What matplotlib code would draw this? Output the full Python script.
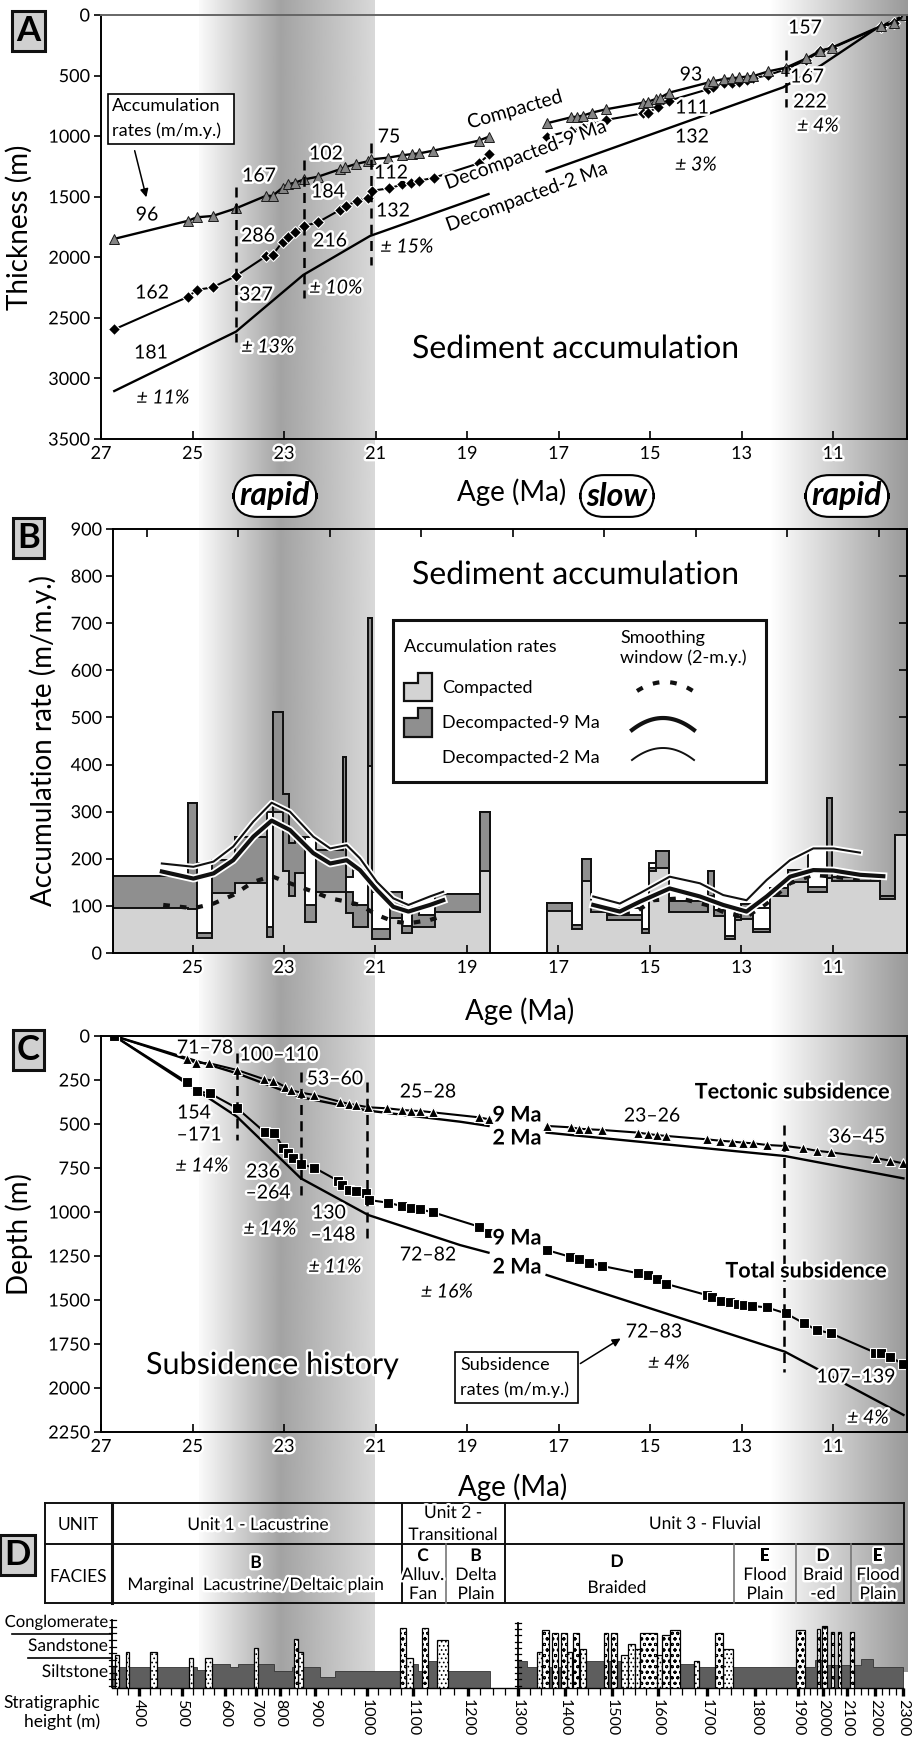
import numpy as np
import matplotlib
matplotlib.use("Agg")
import matplotlib.pyplot as plt
import matplotlib.patheffects as pe
from matplotlib.patches import Rectangle, Polygon

plt.rcParams["font.family"] = ["Lato", "DejaVu Sans"]
plt.rcParams["hatch.linewidth"] = 0.7
plt.rcParams["axes.linewidth"] = 1.4

nan = np.nan
W, H = 917, 1737

# ---------------- Panel A : sediment accumulation (thickness) ----------------
COMP_AGE = [26.72, 25.09, 24.91, 24.56, 24.05, 23.39, 23.25, 23.03, 22.91, 22.76,
            22.56, 22.26, 21.78, 21.67, 21.43, 21.17, 21.10, 20.73, 20.43, 20.21,
            20.04, 19.74, 18.74, 18.52, nan, 17.26, 16.73, 16.60, 16.47, 16.27,
            15.97, 15.16, 15.04, 14.87, 14.78, 14.58, 13.74, 13.63, 13.38, 13.20,
            13.05, 12.89, 12.74, 12.41, 12.03, 11.58, 11.28, 11.03, 9.95, 9.67, 9.42]
COMP_THK = [1849, 1698, 1670, 1659, 1596, 1492, 1494, 1425, 1398, 1384,
            1357, 1335, 1274, 1258, 1230, 1208, 1192, 1178, 1159, 1148,
            1142, 1120, 1037, 1004, nan, 894, 845, 839, 831, 806,
            779, 724, 715, 693, 683, 641, 559, 548, 528, 523,
            515, 509, 504, 465, 435, 358, 295, 270, 91, 63, 0]
DEC9_AGE = [26.71, 25.09, 24.91, 24.56, 24.05, 23.39, 23.25, 23.03, 22.91, 22.76,
            22.56, 22.26, 21.78, 21.64, 21.40, 21.16, 21.07, 20.70, 20.41, 20.22,
            20.04, 19.72, 18.74, 18.51, nan, 17.26, 16.73, 16.47, 16.27, 15.97,
            15.16, 15.04, 14.82, 14.58, 13.74, 13.63, 13.38, 13.20, 13.05, 12.89,
            12.74, 12.41, 12.03, 11.58, 11.28, 11.03, 9.95, 9.67, 9.42]
DEC9_THK = [2595, 2325, 2270, 2248, 2155, 1990, 1981, 1871, 1830, 1794,
            1742, 1711, 1610, 1577, 1533, 1508, 1450, 1431, 1398, 1390,
            1368, 1343, 1224, 1150, nan, 1004, 955, 936, 903, 867,
            812, 806, 757, 707, 614, 597, 564, 560, 550, 537,
            523, 495, 448, 370, 300, 275, 95, 70, 0]
DEC2_AGE = [26.71, 24.05, 22.58, 21.12, 18.53, nan, 17.26, 12.09, 11.25, 10.05, 9.42]
DEC2_THK = [3104, 2614, 2146, 1824, 1478, nan, 1293, 597, 413, 110, 0]
A_CUT_AGE = [24.05, 22.56, 21.10, 12.03]
A_CUT_TOP = [1420, 1197, 1057, 289]
A_CUT_BOT = [2700, 2336, 2064, 760]

# ---------------- Panel B : accumulation rates ----------------
B_EDGES = [26.74, 25.09, 24.91, 24.57, 24.07, 23.38, 23.25, 23.03, 22.88, 22.76,
           22.54, 22.29, 21.70, 21.64, 21.49, 21.38, 21.16, 21.08, 20.68, 20.43,
           20.21, 20.06, 19.70, 18.72, 18.50, 17.26, 16.71, 16.49, 16.28, 15.95,
           15.18, 15.02, 14.87, 14.58, 13.73, 13.60, 13.36, 13.14, 13.00, 12.74,
           12.38, 11.98, 11.54, 11.14, 11.03, 9.97, 9.64, 9.38]
B_COMP = [96, 93, 31, 127, 148, 35, 300, 175, 120, 169,
          66, 130, 130, 84, 56, 56, 396, 29, 74, 42,
          56, 56, 88, 175, 0, 90, 52, 152, 88, 70,
          42, 175, 181, 88, 120, 78, 30, 70, 73, 45,
          120, 150, 130, 160, 152, 115, 250]
B_DEC9 = [163, 319, 43, 197, 246, 56, 512, 337, 233, 247,
          102, 219, 415, 130, 102, 102, 712, 51, 130, 58,
          88, 81, 125, 300, 0, 107, 60, 200, 98, 80,
          50, 181, 217, 110, 173, 92, 36, 77, 105, 52,
          137, 177, 140, 328, 162, 120, 250]
B_DEC2 = [163, 319, 190, 197, 246, 300, 512, 337, 233, 247,
          247, 219, 415, 162, 176, 176, 712, 130, 130, 100,
          88, 81, 125, 300, 0, 107, 60, 200, 98, 95,
          50, 190, 217, 110, 173, 92, 100, 77, 105, 95,
          137, 177, 219, 328, 162, 120, 250]
SM2_AGE = [25.67, 24.98, 24.54, 24.11, 23.67, 23.27, 22.87, 22.36, 21.99, 21.63,
           21.34, 20.97, 20.61, 20.28, 19.81, 19.52, nan,
           16.24, 15.66, 15.22, 14.57, 13.91, 13.40, 12.89, 12.45, 11.94, 11.43, 10.99, 10.41]
SM2_VAL = [190, 183, 194, 226, 279, 319, 300, 247, 222, 229,
           201, 151, 116, 102, 120, 130, nan,
           120, 105, 127, 162, 148, 123, 112, 155, 197, 222, 222, 213]
SM9_AGE = [25.67, 24.98, 24.54, 24.11, 23.67, 23.27, 22.87, 22.36, 21.99, 21.63,
           21.34, 20.97, 20.61, 20.28, 19.81, 19.52, nan,
           16.24, 15.66, 15.22, 14.57, 13.91, 13.40, 12.89, 12.45, 11.94, 11.43, 10.99, 10.41, 9.90]
SM9_VAL = [173, 158, 169, 197, 247, 281, 261, 212, 190, 197,
           176, 134, 98, 88, 102, 112, nan,
           102, 88, 109, 137, 120, 102, 88, 120, 162, 176, 175, 166, 163]
SMC_AGE = [25.64, 24.98, 24.54, 24.11, 23.67, 23.27, 22.87, 22.36, 21.99, 21.63,
           21.34, 20.97, 20.61, 20.28, 19.81, 19.52, nan,
           15.95, 15.36, 14.93, 14.34, 13.76, 13.32, 12.89, 12.45, 11.94, 11.43, 10.99, 10.41, 9.97]
SMC_VAL = [102, 95, 105, 123, 151, 163, 148, 130, 116, 109,
           102, 81, 67, 63, 70, 79, nan,
           84, 84, 112, 116, 102, 84, 77, 105, 148, 166, 162, 155, 166]

# ---------------- Panel C : subsidence history ----------------
TECT9_AGE = [26.71, 25.13, 24.92, 24.63, 24.03, 23.43, 23.23, 22.98, 22.85, 22.63,
             22.34, 21.78, 21.59, 21.43, 21.16, 20.74, 20.43, 20.23, 20.03, 19.74,
             18.74, 18.53, nan, 17.26, 16.73, 16.55, 16.35, 16.04, 15.26, 15.04,
             14.85, 14.64, 13.76, 13.47, 13.21, 12.96, 12.74, 12.45, 12.05, 11.65,
             11.36, 11.05, 10.05, 9.75, 9.48]
TECT9_DEP = [0, 133, 152, 155, 193, 246, 254, 288, 307, 322,
             335, 373, 386, 392, 405, 411, 420, 424, 426, 434,
             462, 473, nan, 511, 519, 527, 530, 534, 549, 557,
             563, 568, 587, 595, 600, 606, 610, 619, 625, 638,
             652, 661, 695, 708, 723]
TECT2_AGE = [26.71, 24.03, 22.63, 21.16, 19.15, 18.53, nan, 17.26, 12.05, 9.46]
TECT2_DEP = [0, 212, 348, 424, 487, 511, nan, 549, 682, 809]
TOT9_AGE = [26.71, 25.11, 24.91, 24.62, 24.02, 23.42, 23.22, 23.02, 22.91, 22.81,
            22.63, 22.34, 21.81, 21.73, 21.57, 21.43, 21.21, 21.14, 20.73, 20.43,
            20.23, 20.03, 19.74, 18.74, 18.53, nan, 17.26, 16.75, 16.55, 16.33,
            16.04, 15.26, 15.04, 14.85, 14.64, 13.76, 13.65, 13.45, 13.25, 13.07,
            12.95, 12.76, 12.45, 12.03, 11.63, 11.36, 11.05, 10.08, 9.96, 9.75, 9.46]
TOT9_DEP = [0, 263, 313, 326, 411, 547, 549, 634, 663, 691,
            729, 748, 824, 847, 875, 881, 894, 932, 947, 966,
            975, 985, 1002, 1083, 1117, nan, 1216, 1254, 1265, 1288,
            1307, 1348, 1360, 1383, 1409, 1472, 1485, 1504, 1509, 1523,
            1528, 1534, 1542, 1576, 1633, 1670, 1689, 1799, 1803, 1826, 1864]
TOT2_AGE = [26.71, 24.03, 22.63, 21.16, 19.15, 18.53, nan, 17.26, 12.05, 9.46]
TOT2_DEP = [0, 458, 809, 1017, 1188, 1231, nan, 1358, 1794, 2153]
C_CUT_AGE = [24.03, 22.63, 21.18, 12.07]
C_CUT_TOP = [97, 205, 261, 506]
C_CUT_BOT = [591, 903, 1148, 1909]

# ---------------- Panel D : stratigraphy ----------------
STRAT_HEIGHT = [400, 500, 600, 700, 800, 900, 1000, 1100, 1200, 1300,
                1400, 1500, 1600, 1700, 1800, 1900, 2000, 2100, 2200, 2300]
STRAT_AGE = [26.17, 25.23, 24.29, 23.61, 23.09, 22.32, 21.19, 20.18, 18.98, 17.89,
             16.86, 15.83, 14.83, 13.75, 12.70, 11.77, 11.22, 10.69, 10.08, 9.47]
MUD_EDGES = [338, 535, 570, 615, 642, 776, 834, 910, 938, 1100, 1109, 1127, 1144, 1164,
             1245, 1300, 1319, 1340, 1368, 1443, 1645, 1676, 1754, 1970, 1996, 2151, 2193, 2300]
MUD_LEVEL = [0.27, 0.24, 0.32, 0.27, 0.32, 0.23, 0.27, 0.15, 0.23, 0.31, 0.23, 0.35, 0.31,
             0.23, 0.0, 0.36, 0.28, 0.28, 0.28, 0.36, 0.32, 0.28, 0.28, 0.37, 0.30, 0.38, 0.27]
SAND_BASE = [344, 370, 425, 517, 553, 694, 851, 1085, 1144, 1340, 1404, 1432, 1520,
             1535, 1550, 1598, 1673, 1733]
SAND_TOP = [353, 377, 442, 526, 570, 708, 866, 1100, 1164, 1351, 1415, 1445, 1535,
            1550, 1561, 1608, 1684, 1754]
SAND_LEVEL = [0.43, 0.48, 0.48, 0.40, 0.40, 0.52, 0.48, 0.39, 0.63, 0.47, 0.48, 0.51, 0.43,
              0.58, 0.51, 0.43, 0.36, 0.51]
CONG_BASE = [840, 1072, 1116, 1351, 1372, 1391, 1417, 1483, 1498, 1561, 1608, 1624, 1717,
             1895, 1977, 1996, 2032, 2064, 2110]
CONG_TOP = [851, 1085, 1127, 1366, 1385, 1404, 1430, 1491, 1511, 1598, 1624, 1645, 1733,
            1928, 1988, 2017, 2046, 2074, 2124]
CONG_LEVEL = [0.64, 0.785, 0.785, 0.76, 0.73, 0.73, 0.73, 0.73, 0.73, 0.73, 0.70, 0.76, 0.73,
              0.76, 0.78, 0.81, 0.74, 0.74, 0.74]

# gradient bands (rapid accumulation periods)
BAND1_AGE = [24.85, 23.07, 21.02]
BAND1_GREY = [0.98, 0.64, 0.85]
BAND2_AGE = [12.38, 9.383]
BAND2_GREY = [1.0, 0.6]


def age_at(px):
    return 27.0 - (px - 101) / 45.75


def rect(x0, y0, x1, y1):
    return [x0 / W, 1 - y1 / H, (x1 - x0) / W, (y1 - y0) / H]


def h2age(h):
    h = np.asarray(h, dtype=float)
    a = np.interp(h, STRAT_HEIGHT, STRAT_AGE)
    lo = h < STRAT_HEIGHT[0]
    slope = (STRAT_AGE[1] - STRAT_AGE[0]) / (STRAT_HEIGHT[1] - STRAT_HEIGHT[0])
    a = np.where(lo, STRAT_AGE[0] + (h - STRAT_HEIGHT[0]) * slope, a)
    return a


HALO = [pe.withStroke(linewidth=3.5, foreground="white")]
LINE_HALO = lambda lw: [pe.Stroke(linewidth=lw + 2.6, foreground="white"), pe.Normal()]

fig = plt.figure(figsize=(W / 100, H / 100), dpi=100)

# background gradient bands
bg = fig.add_axes([0, 0, 1, 1], zorder=0)
bg.axis("off")
for b_age, b_grey, ybot in ((BAND1_AGE, BAND1_GREY, 1688), (BAND2_AGE, BAND2_GREY, 1672)):
    xs = np.linspace(b_age[0], b_age[-1], 300)
    g = np.interp(-xs, -np.array(b_age), b_grey)
    bg.imshow(g[None, :], extent=[xs[0], xs[-1], ybot, 0], cmap="gray", vmin=0, vmax=1,
              aspect="auto", interpolation="bilinear")
bg.set_xlim(age_at(0), age_at(W))
bg.set_ylim(H, 0)


def style_ticks(ax, xt, yt, fs=13):
    ax.set_xticks(xt)
    ax.set_yticks(yt)
    ax.tick_params(axis="x", direction="in", length=6, width=1.2, labelsize=fs, pad=5)
    ax.tick_params(axis="y", direction="out", length=5, width=1.2, labelsize=fs, pad=3)
    for lbl in ax.get_xticklabels() + ax.get_yticklabels():
        lbl.set_path_effects(HALO)


AGE_TICKS = [27, 25, 23, 21, 19, 17, 15, 13, 11]

# ---------------- Panel A ----------------
axA = fig.add_axes(rect(101, 15, 907, 439), zorder=1)
axA.patch.set_alpha(0)
axA.plot(DEC2_AGE, DEC2_THK, color="black", lw=1.7)
axA.plot(DEC9_AGE, DEC9_THK, color="black", lw=1.5, marker="D", ms=6, mfc="black",
         mec="white", mew=0.8)
axA.plot(COMP_AGE, COMP_THK, color="black", lw=1.7, marker="^", ms=7.5, mfc="#858585",
         mec="#1a1a1a", mew=0.7)
axA.vlines(A_CUT_AGE, A_CUT_TOP, A_CUT_BOT, colors="black", linestyles=(0, (4, 2.5)), lw=1.8)
axA.set_xlim(27, age_at(907))
axA.set_ylim(3500, 0)
style_ticks(axA, AGE_TICKS, np.arange(0, 3501, 500))
axA.spines["top"].set_color("#666666")
axA.set_ylabel("Thickness (m)", fontsize=20)
axA.yaxis.set_label_coords((33 - 101) / 806, 0.5)
axA.set_xlabel("Age (Ma)", fontsize=20)
axA.xaxis.set_label_coords((512 - 101) / 806, -(478 - 439) / 424)

# ---------------- Panel B ----------------
axB = fig.add_axes(rect(113, 529, 907, 953), zorder=1)
axB.patch.set_alpha(0)
axB.stairs(B_DEC2, B_EDGES, fill=True, facecolor="white", edgecolor="#111111", lw=1.4, baseline=0)
axB.stairs(B_DEC9, B_EDGES, fill=True, facecolor="#8f8f8f", edgecolor="#111111", lw=1.4, baseline=0)
axB.stairs(B_COMP, B_EDGES, fill=True, facecolor="#d3d3d3", edgecolor="#111111", lw=1.4, baseline=0)
axB.plot(SMC_AGE, SMC_VAL, color="#111111", lw=3, ls=(0, (1.6, 2.4)))
axB.plot(SM9_AGE, SM9_VAL, color="#111111", lw=3, path_effects=LINE_HALO(3))
axB.plot(SM2_AGE, SM2_VAL, color="#111111", lw=1.5, path_effects=LINE_HALO(1.5))
axB.set_xlim(age_at(113), age_at(907))
axB.set_ylim(0, 900)
style_ticks(axB, AGE_TICKS[1:], np.arange(0, 901, 100))
axB.set_xticks(np.arange(10, 27, 2), minor=True)
axB.tick_params(axis="x", which="minor", direction="in", top=True, bottom=False,
                length=6, width=1.2)
secB = axB.secondary_yaxis("right")
secB.set_yticks(np.arange(0, 901, 100))
secB.tick_params(direction="in", length=6, width=1.2, labelright=False)
axB.set_ylabel("Accumulation rate (m/m.y.)", fontsize=20)
axB.yaxis.set_label_coords((57 - 113) / 794, 0.5)
axB.set_xlabel("Age (Ma)", fontsize=20)
axB.xaxis.set_label_coords((520 - 113) / 794, -(997 - 953) / 424)

# ---------------- Panel C ----------------
axC = fig.add_axes(rect(101, 1036, 907, 1432), zorder=1)
axC.patch.set_alpha(0)
axC.plot(TECT2_AGE, TECT2_DEP, color="black", lw=1.7)
axC.plot(TOT2_AGE, TOT2_DEP, color="black", lw=1.7)
axC.plot(TECT9_AGE, TECT9_DEP, color="black", lw=1.5, marker="^", ms=7.5, mfc="black",
         mec="white", mew=0.8)
axC.plot(TOT9_AGE, TOT9_DEP, color="black", lw=1.5, marker="s", ms=6.5, mfc="black",
         mec="white", mew=0.8)
axC.vlines(C_CUT_AGE, C_CUT_TOP, C_CUT_BOT, colors="black", linestyles=(0, (4, 2.5)), lw=1.8)
axC.set_xlim(27, age_at(907))
axC.set_ylim(2250, 0)
style_ticks(axC, AGE_TICKS, np.arange(0, 2251, 250))
axC.set_ylabel("Depth (m)", fontsize=20)
axC.yaxis.set_label_coords((33 - 101) / 806, 0.5)
axC.set_xlabel("Age (Ma)", fontsize=20)
axC.xaxis.set_label_coords((513 - 101) / 806, -(1473 - 1432) / 396)

# ---------------- Panel D lithology ----------------
axL = fig.add_axes(rect(101, 1612, 907, 1688), zorder=1)
axL.patch.set_alpha(0)
axL.set_xlim(27, age_at(907))
axL.set_ylim(0, 1)
for sp in ("left", "right", "top"):
    axL.spines[sp].set_visible(False)
axL.spines["bottom"].set_linewidth(1.0)
axL.spines["bottom"].set_bounds(float(h2age(338)), float(h2age(2300)))
axL.stairs(MUD_LEVEL, h2age(MUD_EDGES), fill=True, facecolor="#5e5e5e",
           edgecolor="#333333", lw=0.6, baseline=0)
for b, t, lev in zip(SAND_BASE, SAND_TOP, SAND_LEVEL):
    a0, a1 = h2age(b), h2age(t)
    axL.add_patch(Rectangle((a0, 0), a1 - a0, lev, facecolor="white", edgecolor="black",
                            lw=0.9, hatch="....", zorder=3))
for b, t, lev in zip(CONG_BASE, CONG_TOP, CONG_LEVEL):
    a0, a1 = h2age(b), h2age(t)
    axL.add_patch(Rectangle((a0, 0), a1 - a0, lev, facecolor="white", edgecolor="black",
                            lw=0.9, hatch="ooo", zorder=3))
# grain-size rulers
for h0, top in ((338, 0.89), (1300, 0.86)):
    a = float(h2age(h0))
    axL.plot([a, a], [0, top], color="black", lw=1.3, zorder=4)
    for lv in np.linspace(0.03, top, 11):
        axL.plot([a - 0.07, a + 0.07], [lv, lv], color="black", lw=0.9, zorder=4)
axL.set_xticks(h2age(STRAT_HEIGHT))
axL.set_xticklabels([str(h) for h in STRAT_HEIGHT], rotation=270, fontsize=11.5)
minor_h = [h for h in range(350, 2300, 25) if h % 100 != 0]
axL.set_xticks(h2age(minor_h), minor=True)
axL.tick_params(axis="x", which="major", direction="out", length=6, width=2.4, pad=2)
axL.tick_params(axis="x", which="minor", direction="out", length=5, width=0.9)
axL.set_yticks([])

# ---------------- overlay: labels, boxes, table ----------------
ov = fig.add_axes([0, 0, 1, 1], zorder=5)
ov.set_xlim(0, W)
ov.set_ylim(H, 0)
ov.axis("off")


def txt(s, x, y, fs=13, halo=True, **kw):
    kw.setdefault("ha", "center")
    kw.setdefault("va", "center")
    t = ov.text(x, y, s, fontsize=fs, **kw)
    if halo:
        t.set_path_effects(HALO)
    return t


# panel letters
for letter, x, y in (("A", 28.5, 31), ("B", 28.5, 538), ("C", 28.5, 1050), ("D", 17.5, 1555)):
    ov.text(x, y, letter, fontsize=25, fontweight="bold", ha="center", va="center",
            bbox=dict(boxstyle="square,pad=0.12", fc="#d0d0d0", ec="#111111", lw=2.2))

# panel A annotations
for s, x, y in (("96", 147, 215), ("167", 259, 176), ("102", 326, 154), ("75", 389, 137),
                ("112", 391, 173), ("184", 328, 192), ("286", 258, 236), ("216", 330, 241),
                ("132", 393, 211), ("162", 152, 293), ("327", 256, 295), ("181", 151, 353),
                ("93", 691, 75), ("111", 692, 108), ("132", 692, 137), ("157", 805, 28),
                ("167", 807, 77), ("222", 810, 102)):
    txt(s, x, y, fs=14)
for s, x, y in (("± 15%", 407, 247), ("± 10%", 336, 288), ("± 13%", 268, 347),
                ("± 11%", 163, 398), ("± 3%", 696, 165), ("± 4%", 818, 126)):
    txt(s, x, y, fs=14, style="italic")
txt("Compacted", 515, 110, fs=14, rotation=16)
txt("Decompacted-9 Ma", 526, 155, fs=14, rotation=20)
txt("Decompacted-2 Ma", 527, 197, fs=14, rotation=20)
txt("Sediment accumulation", 576, 349, fs=23)
ov.add_patch(Rectangle((108, 94), 126, 50, fc="white", ec="black", lw=1.2))
txt("Accumulation", 112, 106, fs=13, ha="left", halo=False)
txt("rates (m/m.y.)", 112, 131, fs=13, ha="left", halo=False)
ov.annotate("", xy=(147, 200), xytext=(134, 148),
            arrowprops=dict(arrowstyle="-|>", color="black", lw=1.1, mutation_scale=12))

# rapid / slow tags
for s, x in (("rapid", 275), ("slow", 617), ("rapid", 847)):
    ov.text(x, 496, s, fontsize=23, fontweight="bold", style="italic", ha="center",
            va="center", bbox=dict(boxstyle="round,pad=0.2,rounding_size=0.75",
                                   fc="white", ec="black", lw=1.5))

# panel B title + legend
txt("Sediment accumulation", 576, 575, fs=23)
ov.add_patch(Rectangle((393, 620), 373, 162, fc="white", ec="#111111", lw=2.2))
txt("Accumulation rates", 404, 647, fs=13, ha="left", halo=False)
txt("Smoothing", 620, 638, fs=13, ha="left", halo=False)
txt("window (2-m.y.)", 620, 658, fs=13, ha="left", halo=False)
txt("Compacted", 442, 688, fs=13, ha="left", halo=False)
txt("Decompacted-9 Ma", 442, 723, fs=13, ha="left", halo=False)
txt("Decompacted-2 Ma", 442, 758, fs=13, ha="left", halo=False)
ov.add_patch(Polygon([(404, 701), (404, 683), (418, 683), (418, 673), (432, 673), (432, 701)],
                     closed=True, fc="#d3d3d3", ec="#111111", lw=1.6))
ov.add_patch(Polygon([(404, 737), (404, 718), (418, 718), (418, 708), (432, 708), (432, 737)],
                     closed=True, fc="#8f8f8f", ec="#111111", lw=1.6))
gx = np.linspace(-1, 1, 30)
ov.plot(665 + 28 * gx, 682 + 9 * gx ** 2, color="#111111", lw=3, ls=(0, (1.6, 2.6)))
ov.plot(663 + 31 * gx, 718 + 12 * gx ** 2, color="#111111", lw=3)
ov.plot(663 + 31 * gx, 748 + 12 * gx ** 2, color="#111111", lw=1.4)

# panel C annotations
for s, x, y in (("71–78", 205, 1048), ("100–110", 279, 1055), ("53–60", 335, 1079),
                ("25–28", 428, 1092), ("154", 194, 1113), ("–171", 199, 1135),
                ("236", 263, 1172), ("–264", 268, 1193), ("130", 329, 1213),
                ("–148", 333, 1235), ("72–82", 428, 1255), ("23–26", 652, 1116),
                ("36–45", 857, 1137), ("72–83", 654, 1332), ("107–139", 856, 1377)):
    txt(s, x, y, fs=14)
for s, x, y in (("± 14%", 202, 1166), ("± 14%", 270, 1229), ("± 11%", 335, 1267),
                ("± 16%", 447, 1292), ("± 4%", 669, 1363), ("± 4%", 868, 1418)):
    txt(s, x, y, fs=14, style="italic")
for s, x, y in (("9 Ma", 517, 1115), ("2 Ma", 517, 1138), ("9 Ma", 517, 1238),
                ("2 Ma", 517, 1267), ("Tectonic subsidence", 792, 1092),
                ("Total subsidence", 806, 1271)):
    txt(s, x, y, fs=15.5, fontweight="bold")
txt("Subsidence history", 272, 1365, fs=22)
ov.add_patch(Rectangle((455, 1352), 123, 51, fc="white", ec="black", lw=1.2))
txt("Subsidence", 460, 1365, fs=13, ha="left", halo=False)
txt("rates (m/m.y.)", 460, 1390, fs=13, ha="left", halo=False)
ov.annotate("", xy=(623, 1337), xytext=(578, 1365),
            arrowprops=dict(arrowstyle="-|>", color="black", lw=1.1, mutation_scale=12))

# panel D table
for y in (1503, 1544, 1603):
    ov.plot([45, 904], [y, y], color="#111111", lw=1.4)
for x in (45, 402, 505, 904):
    ov.plot([x, x], [1503, 1603], color="#111111", lw=1.4)
ov.plot([112, 112], [1503, 1603], color="#111111", lw=2.2)
for x in (446, 734, 796, 851):
    ov.plot([x, x], [1544, 1603], color="#777777", lw=1.2)
txt("UNIT", 78, 1525, fs=12.5, halo=False)
txt("FACIES", 78, 1577, fs=12.5, halo=False)
txt("Unit 1 - Lacustrine", 258, 1525, fs=12.5)
txt("Unit 2 -", 453, 1513, fs=12.5)
txt("Transitional", 453, 1535, fs=12.5)
txt("Unit 3 - Fluvial", 705, 1524, fs=12.5)
txt("B", 256, 1563, fs=12.5, fontweight="bold")
txt("Marginal  Lacustrine/Deltaic plain", 256, 1585, fs=12.5)
for x, lines in ((423, ("C", "Alluv.", "Fan")), (476, ("B", "Delta", "Plain")),
                 (765, ("E", "Flood", "Plain")), (823, ("D", "Braid", "-ed")),
                 (878, ("E", "Flood", "Plain"))):
    txt(lines[0], x, 1556, fs=12.5, fontweight="bold")
    txt(lines[1], x, 1575, fs=12.5)
    txt(lines[2], x, 1594, fs=12.5)
txt("D", 617, 1562, fs=12.5, fontweight="bold")
txt("Braided", 617, 1588, fs=12.5)

# lithology legend
txt("Conglomerate", 108, 1622, fs=12, ha="right")
txt("Sandstone", 108, 1646, fs=12.5, ha="right")
txt("Siltstone", 108, 1672, fs=12.5, ha="right")
txt("Stratigraphic", 100, 1703, fs=12.5, ha="right", halo=False)
txt("height (m)", 100, 1722, fs=12.5, ha="right", halo=False)
ov.plot([12, 112], [1634, 1634], color="black", lw=1.2)
ov.plot([28, 112], [1658, 1658], color="black", lw=1.2)

fig.savefig("out.png", dpi=100)
